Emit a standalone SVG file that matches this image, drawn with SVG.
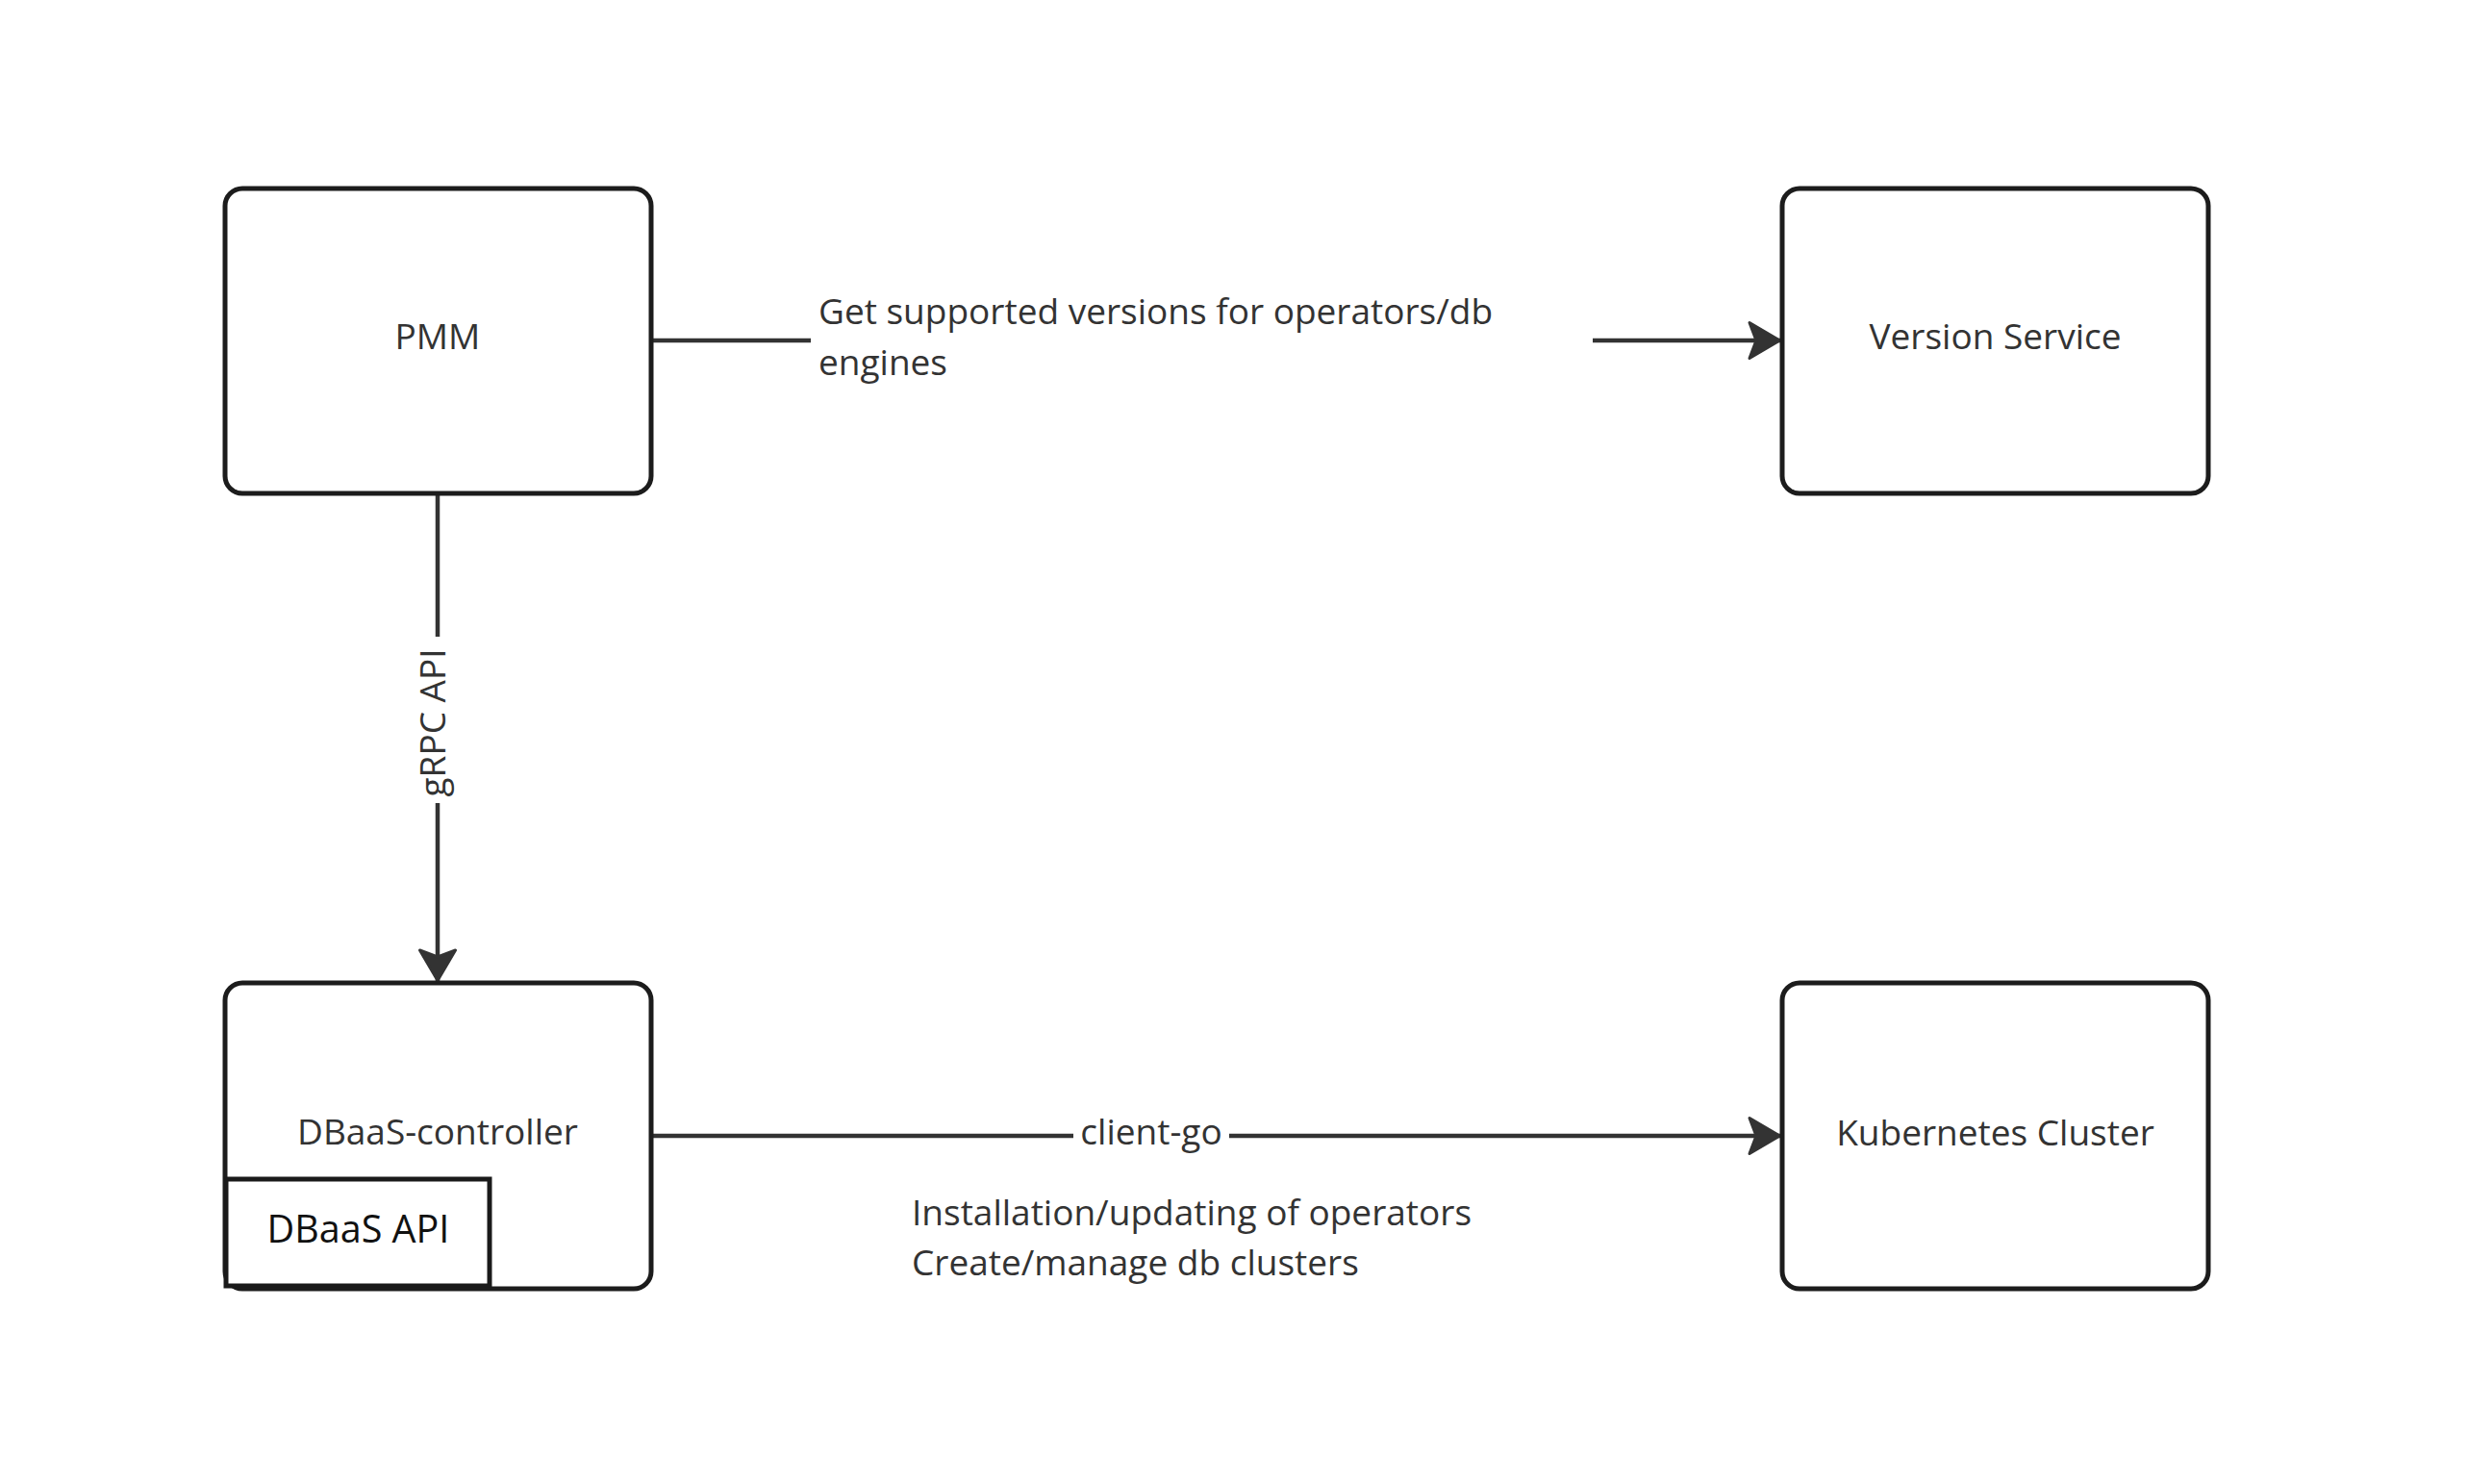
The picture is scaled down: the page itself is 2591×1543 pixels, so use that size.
<svg xmlns="http://www.w3.org/2000/svg" width="2591" height="1543" viewBox="0 0 2591 1543">
  <style>
    .box { fill: #ffffff; stroke: #1c1c1c; stroke-width: 5; }
    .inner { fill: #ffffff; stroke: #1a1a1a; stroke-width: 5; }
    .conn { fill: none; stroke: #333333; stroke-width: 4.5; }
    .lbl { font-family: "Open Sans", "Noto Sans", "Liberation Sans", sans-serif; font-size: 37px; fill: #333333; }
    .mid { text-anchor: middle; }
    .api { font-family: "Open Sans", "Noto Sans", "Liberation Sans", sans-serif; font-size: 39.5px; fill: #111111; text-anchor: middle; }
  </style>
  <defs>
    <marker id="arrow" markerUnits="userSpaceOnUse" viewBox="-40 -25 44 50" refX="0" refY="0" markerWidth="44" markerHeight="50" orient="auto">
      <path d="M-1.5,0 L-33,-18.5 L-26,0 L-33,18.5 Z" fill="#333333" stroke="#333333" stroke-width="3" stroke-linejoin="round"/>
    </marker>
  </defs>
  <rect width="2591" height="1543" fill="#ffffff"/>

  <g id="connectors">
    <path id="pmm-to-version" class="conn" d="M677,354 H843 M1656,354 H1852" marker-end="url(#arrow)"/>
    <path id="pmm-to-dbaas" class="conn" d="M455,513 V662 M455,835 V1021" marker-end="url(#arrow)"/>
    <path id="dbaas-to-k8s" class="conn" d="M677,1181 H1116 M1278,1181 H1852" marker-end="url(#arrow)"/>
    <text class="lbl" x="851" y="337">Get supported versions for operators/db</text>
    <text class="lbl" x="851" y="390">engines</text>
    <text class="lbl mid" transform="translate(463,751.5) rotate(-90)">gRPC API</text>
    <text class="lbl mid" x="1197" y="1190">client-go</text>
    <text class="lbl" x="948" y="1274">Installation/updating of operators</text>
    <text class="lbl" x="948" y="1326">Create/manage db clusters</text>
  </g>

  <g id="node-pmm">
    <rect class="box" x="234" y="196" width="443" height="317" rx="18" ry="18"/>
    <text class="lbl mid" x="455" y="363">PMM</text>
  </g>

  <g id="node-version-service">
    <rect class="box" x="1853" y="196" width="443" height="317" rx="18" ry="18"/>
    <text class="lbl mid" x="2074.5" y="363">Version Service</text>
  </g>

  <g id="node-dbaas-controller">
    <rect class="box" x="234" y="1022" width="443" height="318" rx="18" ry="18"/>
    <text class="lbl mid" x="455" y="1190">DBaaS-controller</text>
    <g id="node-dbaas-api">
      <rect class="inner" x="235" y="1226" width="274" height="111"/>
      <text class="api" x="372.5" y="1292">DBaaS API</text>
    </g>
  </g>

  <g id="node-kubernetes">
    <rect class="box" x="1853" y="1022" width="443" height="318" rx="18" ry="18"/>
    <text class="lbl mid" x="2074.5" y="1191">Kubernetes Cluster</text>
  </g>
</svg>
